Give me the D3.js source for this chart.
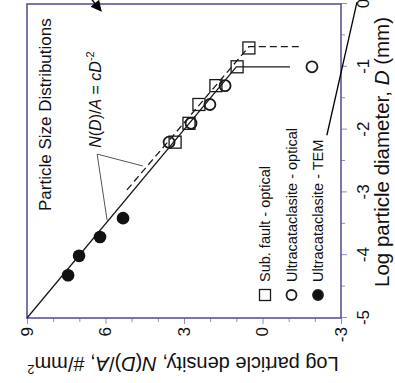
<!DOCTYPE html>
<html>
<head>
<meta charset="utf-8">
<script src="https://cdn.jsdelivr.net/npm/d3@7"></script>
<style>
    body { margin: 0; background: #fff; }
    text { font-family: "Liberation Sans", Arial, sans-serif; fill: #111; }
</style>
</head>
<body>
<div class="chart"></div>
<script>
// log D (mm) and log N(D)/A (#/mm^2)
const subFaultD = [-0.7, -1.0, -1.3, -1.6, -1.9, -2.2]
const subFaultN = [0.52, 0.97, 1.78, 2.43, 2.81, 3.34]
const ultraOptD = [-1.3, -1.6, -1.9, -2.2, -1.0]
const ultraOptN = [1.43, 2.01, 2.73, 3.57, -1.89]
const ultraTemD = [-3.41, -3.71, -4.01, -4.32]
const ultraTemN = [5.33, 6.21, 7.01, 7.43]

// fitted N(D)/A = cD^-2 lines
const fitSolidD = [-5, -1, -1]
const fitSolidN = [9, 1, -1.05]
const fitDashD = [-2.96, -0.68, -0.68]
const fitDashN = [5.18, 0.52, -1.43]

// leader lines from the formula label
const leaderD = [-2.58, -2.39, -3.44]
const leaderN = [4.57, 6.32, 5.94]

// stray lines of the surrounding figure
const arrowD = [0.30, -0.11]
const arrowN = [6.97, 6.17]
const strayD = [0.03, -2.09]
const strayN = [-3.61, -2.46]

const xTicks = [-5, -4, -3, -2, -1, 0]
const yTicks = [9, 6, 3, 0, -3]
const legendLabels = ['Sub. fault - optical', 'Ultracataclasite - optical', 'Ultracataclasite - TEM']

const frameColour = '#5e5296'
const tickColour = '#948db5'

// the figure is drawn upright and then turned a quarter turn anticlockwise
const W = 314, H = 314
const svg = d3.select('.chart').append('svg')
    .attr('width', 395)
    .attr('height', 383)

svg.append('defs').append('marker')
    .attr('id', 'head')
    .attr('viewBox', '0 0 10 10')
    .attr('refX', 9).attr('refY', 5)
    .attr('markerWidth', 13).attr('markerHeight', 11)
    .attr('markerUnits', 'userSpaceOnUse')
    .attr('orient', 'auto')
    .append('path').attr('d', 'M0,0L10,5L0,10Z').attr('fill', '#000')

const g = svg.append('g').attr('transform', 'translate(27,318) rotate(-90)')

const x = d3.scaleLinear().domain([-5, 0]).range([0, W])
const y = d3.scaleLinear().domain([-3, 9]).range([H, 0])

// axes
const xMinor = d3.range(-4.5, 0, 1)
const yMinor = d3.range(-3, 10, 1).filter(v => v % 3 !== 0)

g.append('g').attr('transform', `translate(0,${H})`)
    .call(d3.axisBottom(x).tickValues(xMinor).tickSize(4).tickSizeOuter(0).tickFormat(''))
g.append('g').attr('transform', `translate(0,${H})`).attr('class', 'xlab')
    .call(d3.axisBottom(x).tickValues(xTicks).tickSize(6).tickSizeOuter(0).tickPadding(10).tickFormat(d => String(d)))
g.append('g')
    .call(d3.axisLeft(y).tickValues(yMinor).tickSize(4).tickSizeOuter(0).tickFormat(''))
g.append('g').attr('class', 'ylab')
    .call(d3.axisLeft(y).tickValues(yTicks).tickSize(6).tickSizeOuter(0).tickPadding(3).tickFormat(d => String(d)))

g.selectAll('.domain').remove()
g.selectAll('.tick line').style('stroke', tickColour).style('stroke-width', 1)
g.selectAll('.tick text').style('font-size', '17px').style('fill', '#111')
    .style('font-family', '"Liberation Sans", Arial, sans-serif')

g.append('rect')
    .attr('width', W).attr('height', H)
    .attr('fill', 'none')
    .attr('stroke', frameColour)
    .attr('stroke-width', 1.6)

// fit lines
const line = d3.line().x(d => x(d[0])).y(d => y(d[1]))
g.append('path')
    .attr('d', line(d3.zip(fitSolidD, fitSolidN)))
    .attr('fill', 'none').attr('stroke', '#1a1a1a').attr('stroke-width', 1.3)
g.append('path')
    .attr('d', line(d3.zip(fitDashD, fitDashN)))
    .attr('fill', 'none').attr('stroke', '#1a1a1a').attr('stroke-width', 1.3)
    .attr('stroke-dasharray', '7,4')

g.append('path')
    .attr('d', line(d3.zip(leaderD, leaderN)))
    .attr('fill', 'none').attr('stroke', '#555').attr('stroke-width', 1)

// data points
g.selectAll('.sq').data(d3.zip(subFaultD, subFaultN)).enter().append('rect')
    .attr('class', 'sq')
    .attr('x', d => x(d[0]) - 6).attr('y', d => y(d[1]) - 6)
    .attr('width', 12).attr('height', 12)
    .attr('fill', 'none').attr('stroke', '#1a1a1a').attr('stroke-width', 1.3)

g.selectAll('.oc').data(d3.zip(ultraOptD, ultraOptN)).enter().append('circle')
    .attr('class', 'oc')
    .attr('cx', d => x(d[0])).attr('cy', d => y(d[1]))
    .attr('r', 5.5)
    .attr('fill', 'none').attr('stroke', '#1a1a1a').attr('stroke-width', 1.8)

g.selectAll('.fc').data(d3.zip(ultraTemD, ultraTemN)).enter().append('circle')
    .attr('class', 'fc')
    .attr('cx', d => x(d[0])).attr('cy', d => y(d[1]))
    .attr('r', 6.3)
    .attr('fill', '#111')

// texts inside the frame
g.append('text')
    .attr('x', 107).attr('y', 24)
    .style('font-size', '17px')
    .text('Particle Size Distributions')

const formula = g.append('text')
    .attr('x', x(-2.29)).attr('y', y(6.17))
    .style('font-size', '16px')
formula.append('tspan').style('font-style', 'italic').text('N')
formula.append('tspan').text('(')
formula.append('tspan').style('font-style', 'italic').text('D')
formula.append('tspan').text(')/')
formula.append('tspan').style('font-style', 'italic').text('A')
formula.append('tspan').text(' = ')
formula.append('tspan').style('font-style', 'italic').text('cD')
formula.append('tspan').attr('dy', -7).style('font-size', '11px').text('-2')

// legend
const legend = g.selectAll('.leg').data(legendLabels).enter().append('g')
    .attr('class', 'leg')
    .attr('transform', (d, i) => `translate(23,${238 + i * 26.5})`)
legend.each(function (d, i) {
    const s = d3.select(this)
    if (i === 0) {
        s.append('rect').attr('x', -5.5).attr('y', -5.5).attr('width', 11).attr('height', 11)
            .attr('fill', 'none').attr('stroke', '#1a1a1a').attr('stroke-width', 1.3)
    } else {
        s.append('circle').attr('r', 5)
            .attr('fill', i === 2 ? '#111' : 'none')
            .attr('stroke', '#1a1a1a').attr('stroke-width', 1.8)
    }
})
legend.append('text')
    .attr('x', 13).attr('dy', '0.36em')
    .style('font-size', '14.5px')
    .text(d => d)

// axis titles
const xTitle = g.append('text')
    .attr('x', 166).attr('y', H + 48)
    .attr('text-anchor', 'middle')
    .style('font-size', '20.5px')
xTitle.append('tspan').text('Log particle diameter, ')
xTitle.append('tspan').style('font-style', 'italic').text('D')
xTitle.append('tspan').text(' (mm)')

const yTitle = g.append('text')
    .attr('transform', `translate(-39,156) rotate(-90)`)
    .attr('text-anchor', 'middle')
    .style('font-size', '20px')
yTitle.append('tspan').text('Log particle density, ')
yTitle.append('tspan').style('font-style', 'italic').text('N')
yTitle.append('tspan').text('(')
yTitle.append('tspan').style('font-style', 'italic').text('D')
yTitle.append('tspan').text(')/')
yTitle.append('tspan').style('font-style', 'italic').text('A')
yTitle.append('tspan').text(', #/mm')
yTitle.append('tspan').attr('dy', -8).style('font-size', '13px').text('2')

// lines belonging to the neighbouring figure
g.append('path')
    .attr('d', line(d3.zip(arrowD, arrowN)))
    .attr('stroke', '#000').attr('stroke-width', 1.4)
    .attr('marker-end', 'url(#head)')
g.append('path')
    .attr('d', line(d3.zip(strayD, strayN)))
    .attr('stroke', '#000').attr('stroke-width', 1.3)
</script>
</body>
</html>
